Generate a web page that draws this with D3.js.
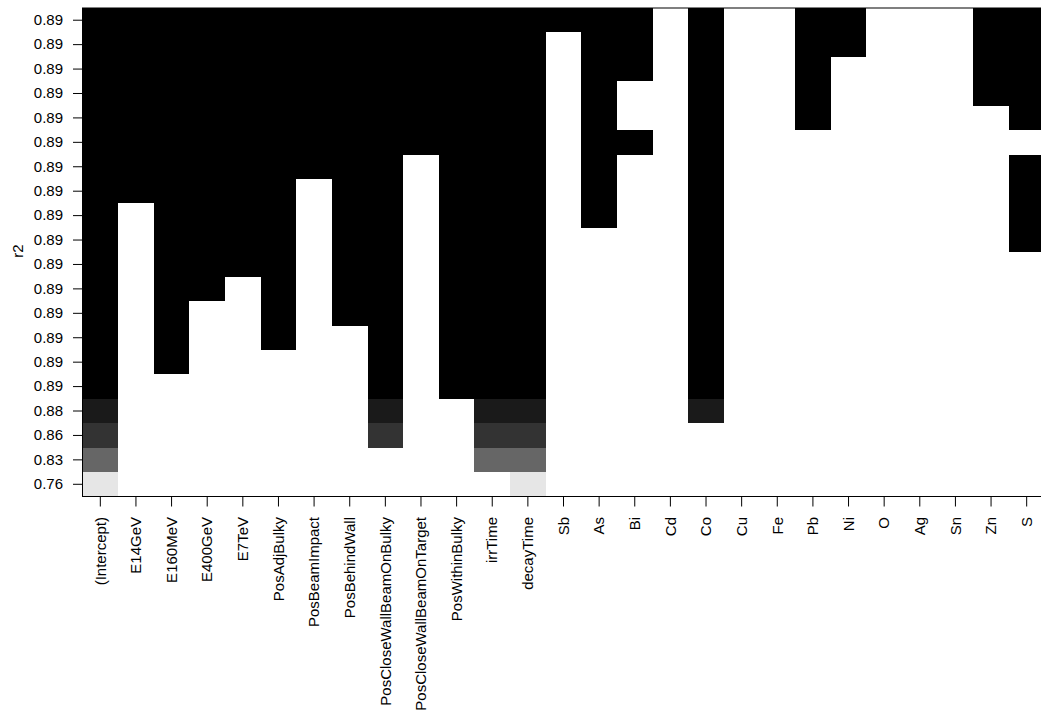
<!DOCTYPE html>
<html>
<head>
<meta charset="utf-8">
<script src="https://cdn.jsdelivr.net/npm/d3@7"></script>
<style>
  html, body { margin: 0; padding: 0; background: #fff; }
  svg { display: block; }
  text { font-family: "Liberation Sans", Arial, Helvetica, sans-serif; fill: #000; }
</style>
</head>
<body>
<svg id="chart" width="1041" height="718"></svg>
<script>
// Variables (columns of the leaps plot)
const variables = ["(Intercept)", "E14GeV", "E160MeV", "E400GeV", "E7TeV", "PosAdjBulky",
  "PosBeamImpact", "PosBehindWall", "PosCloseWallBeamOnBulky", "PosCloseWallBeamOnTarget",
  "PosWithinBulky", "irrTime", "decayTime", "Sb", "As", "Bi", "Cd", "Co", "Cu", "Fe",
  "Pb", "Ni", "O", "Ag", "Sn", "Zn", "S"];

// Models, ordered bottom (lowest r2) to top (highest r2)
const r2 = [0.762, 0.830, 0.860, 0.877, 0.886, 0.888, 0.889, 0.890, 0.8905, 0.891,
  0.8913, 0.8916, 0.8918, 0.892, 0.8922, 0.8924, 0.8926, 0.8927, 0.8928, 0.8929];

// Tick labels on the y axis (signif(r2, 2))
const r2Labels = ["0.76", "0.83", "0.86", "0.88", "0.89", "0.89", "0.89", "0.89", "0.89", "0.89",
  "0.89", "0.89", "0.89", "0.89", "0.89", "0.89", "0.89", "0.89", "0.89", "0.89"];

// Variable inclusion per model (same order as r2), one character per variable
const which = [
  "100000000000100000000000000",
  "100000000001100000000000000",
  "100000001001100000000000000",
  "100000001001100001000000000",
  "100000001011100001000000000",
  "101000001011100001000000000",
  "101001001011100001000000000",
  "101001011011100001000000000",
  "101101011011100001000000000",
  "101111011011100001000000000",
  "101111011011100001000000001",
  "101111011011101001000000001",
  "111111011011101001000000001",
  "111111111011101001000000001",
  "111111111111101101000000000",
  "111111111111101001001000001",
  "111111111111101001001000011",
  "111111111111101101001000011",
  "111111111111101101001100011",
  "111111111111111101001100011"
];

// Grey palette: gray(seq(0, 0.9, length = 10))
const greyLevels = [0, 0.1, 0.2, 0.3, 0.4, 0.5, 0.6, 0.7, 0.8, 0.9];

const svg = d3.select("#chart");
const plotLeft = 82.5, plotRight = 1044.5, plotTop = 8, plotBottom = 496.5;

const x = d3.scaleBand().domain(variables).range([plotLeft, plotRight]).padding(0);
const rowIdx = d3.range(r2.length);
const y = d3.scaleBand().domain(rowIdx).range([plotBottom, plotTop]).padding(0);

const zvals = r2.map(v => -Math.log(Math.max(v, 0.0001)));
const color = d3.scaleQuantize()
  .domain(d3.extent(zvals))
  .range(greyLevels.map(g => { const c = Math.round(g * 255); return d3.rgb(c, c, c).formatHex(); }));

const cells = [];
which.forEach((row, i) => {
  variables.forEach((v, j) => {
    if (row[j] === "1") cells.push({ row: i, v, z: zvals[i] });
  });
});

svg.append("g")
  .selectAll("rect")
  .data(cells)
  .join("rect")
  .attr("x", d => x(d.v))
  .attr("y", d => y(d.row))
  .attr("width", x.bandwidth())
  .attr("height", y.bandwidth())
  .attr("fill", d => color(d.z))
  .attr("shape-rendering", "crispEdges");

// Box
svg.append("rect")
  .attr("x", plotLeft).attr("y", plotTop)
  .attr("width", plotRight - plotLeft).attr("height", plotBottom - plotTop)
  .attr("fill", "none").attr("stroke", "#000").attr("stroke-width", 1);

// Y axis
const yAxis = d3.axisLeft(y)
  .tickSize(9.5).tickPadding(10)
  .tickFormat(i => r2Labels[i]);
const gy = svg.append("g").attr("transform", `translate(${plotLeft},0)`).call(yAxis);
gy.select(".domain").remove();
gy.selectAll("text").style("font-size", "15px").attr("font-family", null);
gy.selectAll("line").attr("stroke", "#000");

// X axis
const xAxis = d3.axisBottom(x).tickSize(10).tickPadding(0);
const gx = svg.append("g").attr("transform", `translate(0,${plotBottom})`).call(xAxis);
gx.select(".domain").remove();
gx.selectAll("line").attr("stroke", "#000");
gx.selectAll("text")
  .attr("font-family", null)
  .style("font-size", "15px")
  .attr("transform", "rotate(-90)")
  .attr("x", -20.5)
  .attr("y", 0)
  .attr("dy", "0.35em")
  .style("text-anchor", "end");

// Y axis title
svg.append("text")
  .attr("transform", "translate(23,251) rotate(-90)")
  .attr("text-anchor", "middle")
  .style("font-size", "15px")
  .text("r2");
</script>
</body>
</html>
